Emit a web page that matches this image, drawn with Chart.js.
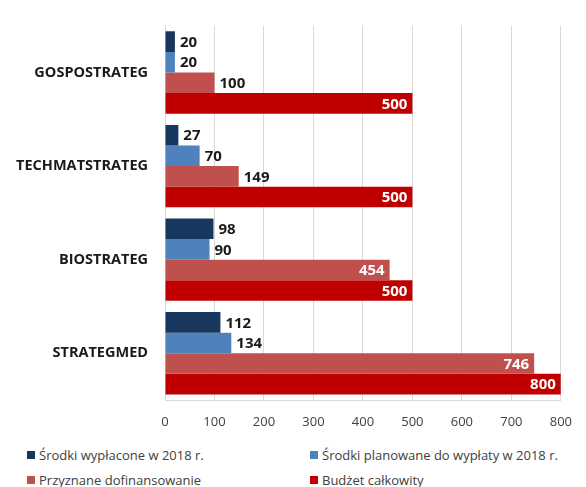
<!DOCTYPE html>
<html>
<head>
<meta charset="utf-8">
<script src="https://cdn.jsdelivr.net/npm/chart.js@4"></script>
<style>
    body { margin: 0; background: #fff; }
    #wrap { position: relative; width: 586px; height: 487px; }
    #chart { position: absolute; left: 0; top: 0; }
    .lg { position: absolute; font: 13px "Open Sans", sans-serif; color: #404040; white-space: nowrap; line-height: 16px; }
    .lg i { position: absolute; left: -12px; top: 4px; width: 8px; height: 8px; }
</style>
</head>
<body>
<div id="wrap">
    <canvas id="chart" width="586" height="440"></canvas>
</div>
<script>
// 데이터
const categories = ['GOSPOSTRATEG', 'TECHMATSTRATEG', 'BIOSTRATEG', 'STRATEGMED'];
const seriesNames = [
    'Środki wypłacone w 2018 r.',
    'Środki planowane do wypłaty w 2018 r.',
    'Przyznane dofinansowanie',
    'Budżet całkowity'
];
const wyplacone = [20, 27, 98, 112];
const planowane = [20, 70, 90, 134];
const przyznane = [100, 149, 454, 746];
const budzet = [500, 500, 500, 800];
const xTicks = [0, 100, 200, 300, 400, 500, 600, 700, 800];

const colors = ['#17375E', '#4F81BD', '#C0504D', '#C00000'];

// 범례 (2열, HTML)
const legendPos = [[39, 447], [322, 447], [39, 472], [322, 472]];
const wrap = document.getElementById('wrap');
seriesNames.forEach((name, i) => {
    const d = document.createElement('div');
    d.className = 'lg';
    d.style.left = legendPos[i][0] + 'px';
    d.style.top = legendPos[i][1] + 'px';
    d.innerHTML = '<i style="background:' + colors[i] + '"></i>' + name;
    wrap.appendChild(d);
});

// 막대 끝 값 표시
const valueLabels = {
    id: 'valueLabels',
    afterDatasetsDraw(chart) {
        const ctx = chart.ctx;
        ctx.save();
        ctx.font = 'bold 15px "Open Sans", sans-serif';
        ctx.textBaseline = 'middle';
        chart.data.datasets.forEach((ds, di) => {
            const meta = chart.getDatasetMeta(di);
            meta.data.forEach((bar, i) => {
                const v = ds.data[i];
                if (v >= 300) {
                    ctx.fillStyle = '#ffffff';
                    ctx.textAlign = 'right';
                    ctx.fillText(v, bar.x - 5, bar.y + 1);
                } else {
                    ctx.fillStyle = '#1a1a1a';
                    ctx.textAlign = 'left';
                    ctx.fillText(v, bar.x + 5, bar.y + 1);
                }
            });
        });
        ctx.restore();
    }
};

const data = [wyplacone, planowane, przyznane, budzet];

new Chart(document.getElementById('chart'), {
    type: 'bar',
    data: {
        labels: categories,
        datasets: data.map((d, i) => ({
            label: seriesNames[i],
            data: d,
            backgroundColor: colors[i],
            borderWidth: 0,
            barPercentage: 1,
            categoryPercentage: 0.88
        }))
    },
    options: {
        responsive: false,
        animation: false,
        indexAxis: 'y',
        layout: { padding: { top: 14, right: 22, left: 0, bottom: 0 } },
        plugins: {
            legend: { display: false },
            tooltip: { enabled: false }
        },
        scales: {
            x: {
                min: 0,
                max: 800,
                afterBuildTicks(scale) {
                    scale.ticks = xTicks.map(v => ({ value: v }));
                },
                afterFit(scale) { scale.height = 40; },
                grid: { color: '#d9d9d9', drawTicks: false },
                border: { color: '#d9d9d9' },
                ticks: {
                    padding: 14,
                    color: '#404040',
                    font: { family: '"Open Sans", sans-serif', size: 13 }
                }
            },
            y: {
                afterFit(scale) { scale.width = 165; },
                grid: { display: false, drawTicks: false },
                border: { color: '#d9d9d9' },
                ticks: {
                    padding: 17,
                    color: '#1a1a1a',
                    font: { family: '"Open Sans", sans-serif', size: 14.5, weight: 'bold' }
                }
            }
        }
    },
    plugins: [valueLabels]
});
</script>
</body>
</html>
